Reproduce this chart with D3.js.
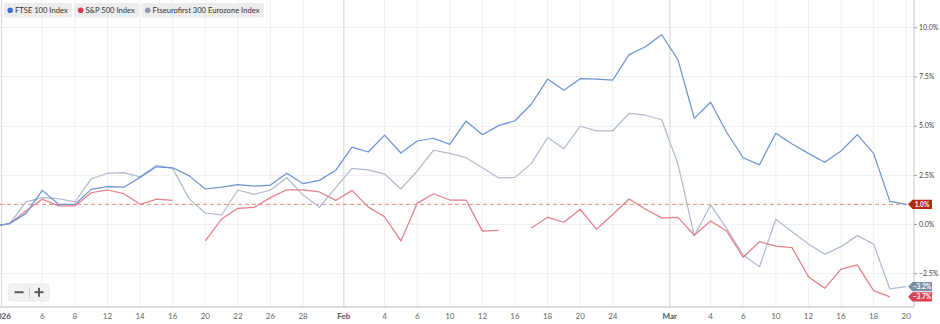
<!DOCTYPE html>
<html><head><meta charset="utf-8">
<script src="https://cdn.jsdelivr.net/npm/d3@7"></script>
<style>
html,body{margin:0;padding:0;background:#fff;}
svg{display:block;font-family:Lato,"Open Sans",sans-serif;}
</style></head><body>
<svg id="chart" width="940" height="324"></svg>
<script>
// ---- data (percent change) ----
const dates = ["2025-12-31","2026-01-02","2026-01-05","2026-01-06","2026-01-07","2026-01-08","2026-01-09","2026-01-12","2026-01-13","2026-01-14","2026-01-15","2026-01-16","2026-01-19","2026-01-20","2026-01-21","2026-01-22","2026-01-23","2026-01-26","2026-01-27","2026-01-28","2026-01-29","2026-01-30","2026-02-02","2026-02-03","2026-02-04","2026-02-05","2026-02-06","2026-02-09","2026-02-10","2026-02-11","2026-02-12","2026-02-13","2026-02-16","2026-02-17","2026-02-18","2026-02-19","2026-02-20","2026-02-23","2026-02-24","2026-02-25","2026-02-26","2026-02-27","2026-03-02","2026-03-03","2026-03-04","2026-03-05","2026-03-06","2026-03-09","2026-03-10","2026-03-11","2026-03-12","2026-03-13","2026-03-16","2026-03-17","2026-03-18","2026-03-19","2026-03-20"];
const ftse = [-0.10,0.02,0.54,1.71,1.00,1.00,1.76,1.90,1.87,2.37,2.91,2.86,2.46,1.78,1.88,2.00,1.93,1.98,2.58,2.05,2.22,2.73,3.91,3.66,4.52,3.61,4.22,4.36,4.05,5.24,4.54,5.00,5.25,6.09,7.37,6.80,7.39,7.36,7.32,8.61,9.01,9.62,8.34,5.37,6.19,4.64,3.37,3.01,4.61,4.07,3.59,3.14,3.71,4.54,3.59,1.15,1.00];
const sp500 = [-0.10,0.02,0.68,1.26,0.92,0.92,1.59,1.73,1.54,1.00,1.26,1.20,null,-0.86,0.25,0.80,0.85,1.34,1.74,1.74,1.63,1.20,1.71,0.86,0.37,-0.86,1.05,1.54,1.22,1.22,-0.36,-0.32,null,-0.20,0.34,0.09,0.75,-0.27,0.48,1.27,0.75,0.31,0.34,-0.57,0.15,-0.37,-1.69,-0.90,-1.12,-1.20,-2.68,-3.27,-2.29,-2.08,-3.39,-3.70,null];
const eurofirst = [-0.10,0.02,1.13,1.34,1.29,1.12,2.29,2.58,2.61,2.40,2.98,2.83,1.29,0.56,0.46,1.73,1.51,1.73,2.35,1.47,0.85,1.85,2.83,2.75,2.54,1.78,2.69,3.75,3.59,3.37,2.86,2.34,2.37,3.07,4.40,3.83,4.97,4.73,4.74,5.63,5.53,5.30,3.04,-0.61,0.97,-0.25,-1.58,-2.17,0.24,-0.39,-1.02,-1.54,-1.15,-0.59,-1.02,-3.30,-3.18];
const seriesNames = ["FTSE 100 Index","S&P 500 Index","Ftseurofirst 300 Eurozone Index"];
const yTicks = [-2.5,0,2.5,5,7.5,10];
const dayTickDates = ["2026-01-06","2026-01-08","2026-01-12","2026-01-14","2026-01-16","2026-01-20","2026-01-22","2026-01-26","2026-01-28","2026-02-04","2026-02-06","2026-02-10","2026-02-12","2026-02-16","2026-02-18","2026-02-20","2026-02-24","2026-03-04","2026-03-06","2026-03-10","2026-03-12","2026-03-16","2026-03-18","2026-03-20"];
const dayTickLabels = ["6","8","12","14","16","20","22","26","28","4","6","10","12","16","18","20","24","4","6","10","12","16","18","20"];
const monthTickBefore = ["2025-12-31","2026-01-30","2026-02-27"];
const monthTickAfter = ["2026-01-02","2026-02-02","2026-03-02"];
const monthTickLabels = ["2026","Feb","Mar"];

// ---- layout ----
const W = 940, H = 324;
const plotRight = 914, plotBottom = 307;
const lineColors = ["#6b93d6","#e27f89","#b0bace"];
const dotColors = ["#3b6fd1","#d8394b","#8e9ab3"];
const tagColors = ["#b5290f","#d8414f","#7f8ea8"];

const svg = d3.select("#chart");
const x = d3.scalePoint().domain(dates).range([-6.6, 906.2]);
const y = d3.scaleLinear().domain([-2.5, 10]).range([273.2, 27.3]);

// horizontal grid
svg.append("g").selectAll("line").data(yTicks).join("line")
  .attr("x1", 0).attr("x2", plotRight)
  .attr("y1", d => Math.round(y(d)) + 0.5).attr("y2", d => Math.round(y(d)) + 0.5)
  .attr("stroke", "#f0f0f0").attr("stroke-width", 1);

// vertical grid (days)
svg.append("g").selectAll("line").data(dayTickDates).join("line")
  .attr("x1", d => x(d)).attr("x2", d => x(d))
  .attr("y1", 0).attr("y2", plotBottom)
  .attr("stroke", "#efefef").attr("stroke-width", 1);

const monthX = monthTickBefore.map((d, i) => (x(d) + x(monthTickAfter[i])) / 2);
svg.append("g").selectAll("line").data(monthX).join("line")
  .attr("x1", d => d).attr("x2", d => d)
  .attr("y1", 0).attr("y2", plotBottom)
  .attr("stroke", "#dcdcdc").attr("stroke-width", 1.3);

// axes lines
svg.append("line").attr("x1", 0).attr("x2", plotRight).attr("y1", plotBottom).attr("y2", plotBottom)
  .attr("stroke", "#cfcfcf").attr("stroke-width", 1.5);
svg.append("line").attr("x1", plotRight).attr("x2", plotRight).attr("y1", 0).attr("y2", plotBottom)
  .attr("stroke", "#cfcfcf").attr("stroke-width", 1.2);

// y axis labels (right)
const yAxis = svg.append("g").attr("transform", `translate(${plotRight},0)`)
  .call(d3.axisRight(y).tickValues(yTicks).tickSize(3).tickPadding(2).tickFormat(d => d3.format(".1f")(d) + "%"));
yAxis.select(".domain").remove();
yAxis.selectAll(".tick line").attr("stroke", "#999");
yAxis.selectAll(".tick text").attr("font-size", 7).attr("fill", "#444").attr("font-family", "Lato, 'Open Sans', sans-serif");

// x axis labels
svg.append("g").selectAll("text").data(dayTickDates).join("text")
  .attr("x", d => x(d)).attr("y", 316).attr("dy", "0.35em")
  .attr("text-anchor", "middle").attr("font-size", 8).attr("fill", "#666")
  .text((d, i) => dayTickLabels[i]);
svg.append("g").selectAll("text").data(monthX).join("text")
  .attr("x", d => d).attr("y", 316).attr("dy", "0.35em")
  .attr("text-anchor", "middle").attr("font-size", 8).attr("font-weight", "bold").attr("fill", "#555")
  .text((d, i) => monthTickLabels[i]);

// clip
svg.append("defs").append("clipPath").attr("id", "plotclip")
  .append("rect").attr("x", 0).attr("y", 0).attr("width", plotRight).attr("height", plotBottom);

const plot = svg.append("g").attr("clip-path", "url(#plotclip)");

// dashed current-value line for FTSE
const lastVal = arr => { for (let i = arr.length - 1; i >= 0; i--) if (arr[i] != null) return arr[i]; return null; };
plot.append("line").attr("x1", 0).attr("x2", 908)
  .attr("y1", y(lastVal(ftse))).attr("y2", y(lastVal(ftse)))
  .attr("stroke", "#f08a78").attr("stroke-width", 1).attr("stroke-dasharray", "4,3");

const lineGen = d3.line().defined(d => d != null).x((d, i) => x(dates[i])).y(d => y(d));
const allSeries = [ftse, sp500, eurofirst];
[2, 1, 0].forEach(k => {
  plot.append("path").datum(allSeries[k])
    .attr("d", lineGen).attr("fill", "none")
    .attr("stroke", lineColors[k]).attr("stroke-width", 1.25)
    .attr("stroke-linejoin", "round");
});

// value tags
const tags = svg.append("g");
allSeries.forEach((s, k) => {
  const v = lastVal(s);
  const yv = y(v);
  const g = tags.append("g").attr("transform", `translate(0,${yv})`);
  g.append("path").attr("d", "M908,0 L912.5,-4.6 L932,-4.6 L932,4.6 L912.5,4.6 Z").attr("fill", tagColors[k]);
  g.append("text").attr("x", 922).attr("y", 0).attr("dy", "0.35em").attr("text-anchor", "middle")
    .attr("font-size", 6.6).attr("font-weight", "bold").attr("fill", "#fff")
    .text(d3.format(".1f")(v) + "%");
});

// legend
const legend = svg.append("g");
let lx = 4;
seriesNames.forEach((name, k) => {
  const g = legend.append("g").attr("transform", `translate(${lx},3)`);
  const rect = g.append("rect").attr("y", 0).attr("height", 14.5).attr("rx", 2.5).attr("fill", "#ececec");
  g.append("circle").attr("cx", 6.2).attr("cy", 7.2).attr("r", 2.8).attr("fill", dotColors[k]);
  const t = g.append("text").attr("x", 11).attr("y", 7.4).attr("dy", "0.35em")
    .attr("font-size", 7.6).attr("fill", "#333").text(name);
  const w = t.node().getComputedTextLength() + 15.5;
  rect.attr("width", w);
  lx += w + 2.3;
});

// zoom control
const zc = svg.append("g");
zc.append("rect").attr("x", 8).attr("y", 284).attr("width", 41).attr("height", 17).attr("rx", 3)
  .attr("fill", "#f1f1f1").attr("stroke", "#e4e4e4").attr("stroke-width", 0.8);
zc.append("line").attr("x1", 29.5).attr("x2", 29.5).attr("y1", 287).attr("y2", 298).attr("stroke", "#d0d0d0");
zc.append("rect").attr("x", 14.5).attr("y", 291.3).attr("width", 9).attr("height", 1.9).attr("fill", "#555");
zc.append("rect").attr("x", 34.5).attr("y", 291.3).attr("width", 9).attr("height", 1.9).attr("fill", "#555");
zc.append("rect").attr("x", 38.05).attr("y", 287.8).attr("width", 1.9).attr("height", 9).attr("fill", "#555");
</script>
</body></html>
